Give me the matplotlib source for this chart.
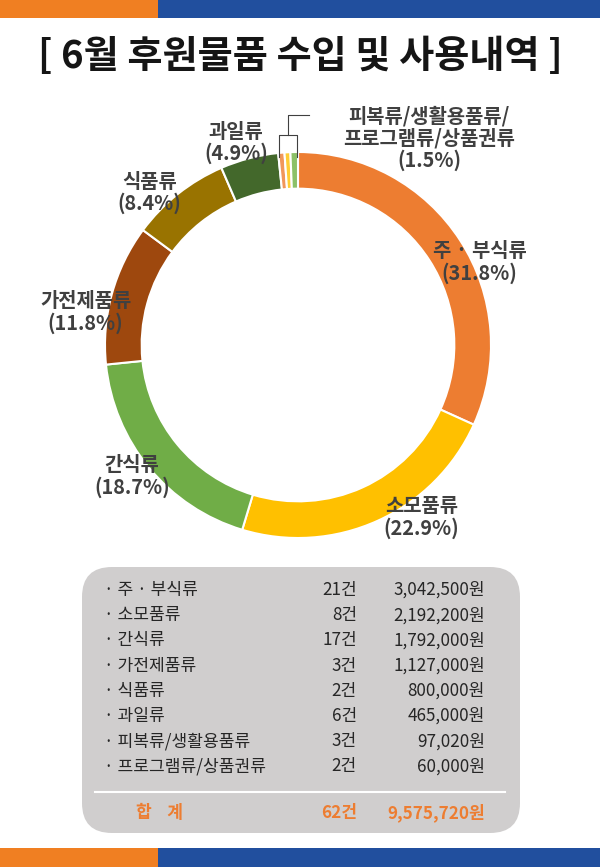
import matplotlib.pyplot as plt
from matplotlib.patches import FancyBboxPatch, Rectangle

plt.rcParams['font.family'] = ['Noto Sans CJK KR', 'DejaVu Sans']

# table rows
items = ['주 · 부식류', '소모품류', '간식류', '가전제품류', '식품류', '과일류',
         '피복류/생활용품류', '프로그램류/상품권류']
counts = [21, 8, 17, 3, 2, 6, 3, 2]
amounts = [3042500, 2192200, 1792000, 1127000, 800000, 465000, 97020, 60000]
total_count = 62
total_amount = 9575720

# donut slices (the last three thin slices are estimated from the picture)
slice_values = [3042500, 2192200, 1792000, 1127000, 800000, 465000, 50000, 47020, 60000]
slice_colors = ['#ED7D31', '#FFC000', '#70AD47', '#9E480E', '#997300', '#43682B',
                '#F1975A', '#FFCD33', '#8CC168']
slice_labels = ['주 · 부식류\n(31.8%)', '소모품류\n(22.9%)', '간식류\n(18.7%)',
                '가전제품류\n(11.8%)', '식품류\n(8.4%)', '과일류\n(4.9%)',
                '피복류/생활용품류/\n프로그램류/상품권류\n(1.5%)']
label_pos = [(0.94, 0.43), (0.64, -0.89), (-0.86, -0.68), (-1.10, 0.17),
             (-0.77, 0.79), (-0.32, 1.05), (0.68, 1.07)]

W, H = 600, 867
fig = plt.figure(figsize=(W / 100, H / 100), dpi=100)

bg = fig.add_axes([0, 0, 1, 1])
bg.set_xlim(0, W)
bg.set_ylim(H, 0)
bg.axis('off')

# header / footer bars
bg.add_patch(Rectangle((0, 0), 158, 18, color='#F07F22', lw=0))
bg.add_patch(Rectangle((158, 0), W - 158, 18, color='#214F9E', lw=0))
bg.add_patch(Rectangle((0, 848), 158, 19, color='#F07F22', lw=0))
bg.add_patch(Rectangle((158, 848), W - 158, 19, color='#214F9E', lw=0))

bg.text(W / 2, 56, '[ 6월 후원물품 수입 및 사용내역 ]', ha='center', va='center',
        fontsize=27.5, fontweight='bold', color='#151515')

# table box
bg.add_patch(FancyBboxPatch((82, 567), 438, 266,
                            boxstyle='round,pad=0,rounding_size=30',
                            fc='#D0CECE', ec='none'))
row_y0, row_dy = 590, 25.2
fs = 12.3
for i, (name, c, a) in enumerate(zip(items, counts, amounts)):
    y = row_y0 + i * row_dy
    bg.text(104, y, '· ' + name, ha='left', va='center', fontsize=fs, color='#262626')
    bg.text(357, y, f'{c}건', ha='right', va='center', fontsize=fs, color='#262626')
    bg.text(485, y, f'{a:,}원', ha='right', va='center', fontsize=fs, color='#262626')
bg.plot([95, 505], [792, 792], color='white', lw=1.5)
bg.text(160, 813, '합    계', ha='center', va='center', fontsize=fs,
        fontweight='bold', color='#ED7D31')
bg.text(357, 813, f'{total_count}건', ha='right', va='center', fontsize=fs,
        fontweight='bold', color='#ED7D31')
bg.text(485, 813, f'{total_amount:,}원', ha='right', va='center', fontsize=fs,
        fontweight='bold', color='#ED7D31')

# donut
cx, cy, r = 298, 345, 193
ax = fig.add_axes([(cx - r) / W, 1 - (cy + r) / H, 2 * r / W, 2 * r / H])
ax.pie(slice_values, colors=slice_colors, startangle=90, counterclock=False,
       radius=1, wedgeprops=dict(width=0.19, edgecolor='white', linewidth=1.5))
ax.set_xlim(-1, 1)
ax.set_ylim(-1, 1)
ax.axis('off')

for lab, (x, y) in zip(slice_labels, label_pos):
    ax.text(x, y, lab, ha='center', va='center', fontsize=14.3, fontweight='bold',
            color='#404040', linespacing=1.05, clip_on=False)

# leader bracket for the thin slices
to_d = lambda px, py: ((px - cx) / r, (cy - py) / r)
pts = [(279, 157), (279, 135), (297, 135), (297, 157)]
ax.plot(*zip(*[to_d(*p) for p in pts]), color='#404040', lw=0.8, clip_on=False)
ax.plot(*zip(*[to_d(288, 135), to_d(288, 115), to_d(309, 115)]),
        color='#404040', lw=0.8, clip_on=False)

fig.savefig('out.png', dpi=100)
